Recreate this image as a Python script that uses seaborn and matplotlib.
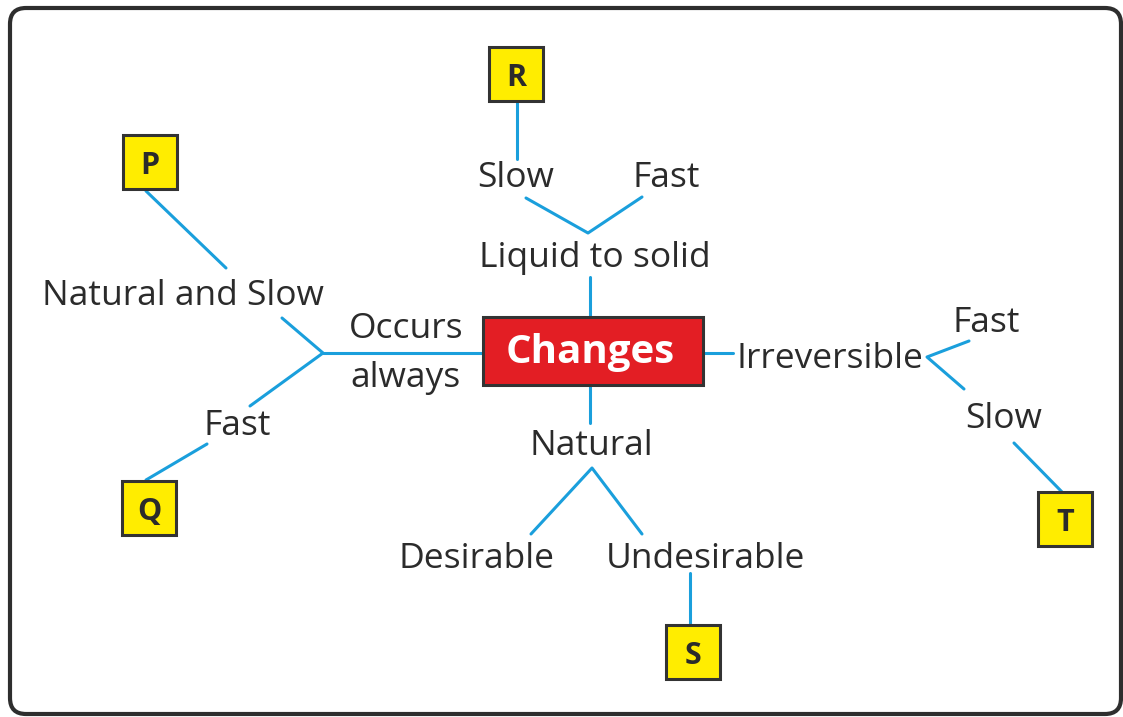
import matplotlib
matplotlib.use("Agg")
import matplotlib.pyplot as plt
from matplotlib.patches import FancyBboxPatch, Rectangle
import pandas as pd
import seaborn as sns

# concept map content
centre_label = "Changes"
word_labels = ["Slow", "Fast", "Liquid to solid", "Natural and Slow", "Occurs", "always",
               "Fast", "Irreversible", "Fast", "Slow", "Natural", "Desirable", "Undesirable"]
# (x centre, baseline y) in pixels of the 1123x717 canvas
word_x = [516, 666, 595, 183, 406, 406, 237, 830, 986, 1004, 591, 477, 705]
word_y = [187, 187, 267, 305, 338, 387, 435, 368, 332, 428, 455, 568, 568]

box_letters = ["P", "Q", "R", "S", "T"]
box_x0 = [123, 122, 489, 666, 1038]
box_y0 = [135, 481, 47, 625, 492]

# connector polylines: list of (x, y) points
links = [
    [(517, 102), (517, 159)],
    [(526, 198), (588, 233), (642, 197)],
    [(590, 277), (590, 317)],
    [(146, 191), (226, 268)],
    [(282, 318), (323, 353), (250, 406)],
    [(323, 353), (483, 353)],
    [(207, 444), (146, 480)],
    [(703, 353), (733, 353)],
    [(969, 341), (927, 357), (964, 389)],
    [(1014, 443), (1063, 493)],
    [(590, 385), (590, 423)],
    [(531, 534), (592, 468), (642, 534)],
    [(690, 573), (690, 625)],
]

W, H = 1123, 717
BLUE = "#1a9fdc"
INK = "#2b2b2b"

sns.set_theme(style="white")
plt.rcParams['font.family'] = ['Open Sans', 'DejaVu Sans']

fig = plt.figure(figsize=(W / 100, H / 100), dpi=100)
ax = fig.add_axes([0, 0, 1, 1])

# outer frame
frame = FancyBboxPatch((10, 8), 1111, 706, boxstyle="round,pad=0,rounding_size=16",
                       facecolor="white", edgecolor="#2e2e2e", linewidth=3)
ax.add_patch(frame)

# connectors via seaborn
rows = []
for k, pts in enumerate(links):
    for i, (x, y) in enumerate(pts):
        rows.append({"link": k, "order": i, "x": x, "y": y})
df = pd.DataFrame(rows)
sns.lineplot(data=df, x="x", y="y", units="link", estimator=None, sort=False,
             color=BLUE, linewidth=2.2, ax=ax, legend=False)
ax.set_xlim(0, W)
ax.set_ylim(H, 0)
ax.axis('off')

# centre box
ax.add_patch(Rectangle((483, 317), 220, 68, facecolor="#e31e24", edgecolor="#333333",
                       linewidth=2.2, zorder=3))
ax.text(590, 363, centre_label, ha="center", va="baseline", color="white",
        fontsize=29, fontweight="bold", zorder=4)

for lab, x, y in zip(word_labels, word_x, word_y):
    ax.text(x, y, lab, ha="center", va="baseline", color=INK, fontsize=25.5, zorder=4)

for lab, x0, y0 in zip(box_letters, box_x0, box_y0):
    ax.add_patch(Rectangle((x0, y0), 54, 54, facecolor="#ffed00", edgecolor="#333333",
                           linewidth=2.2, zorder=3))
    ax.text(x0 + 27, y0 + 27 + 12, lab, ha="center", va="baseline", color=INK,
            fontsize=22, fontweight="bold", zorder=4)

fig.savefig("out.png", dpi=100, facecolor="white")
